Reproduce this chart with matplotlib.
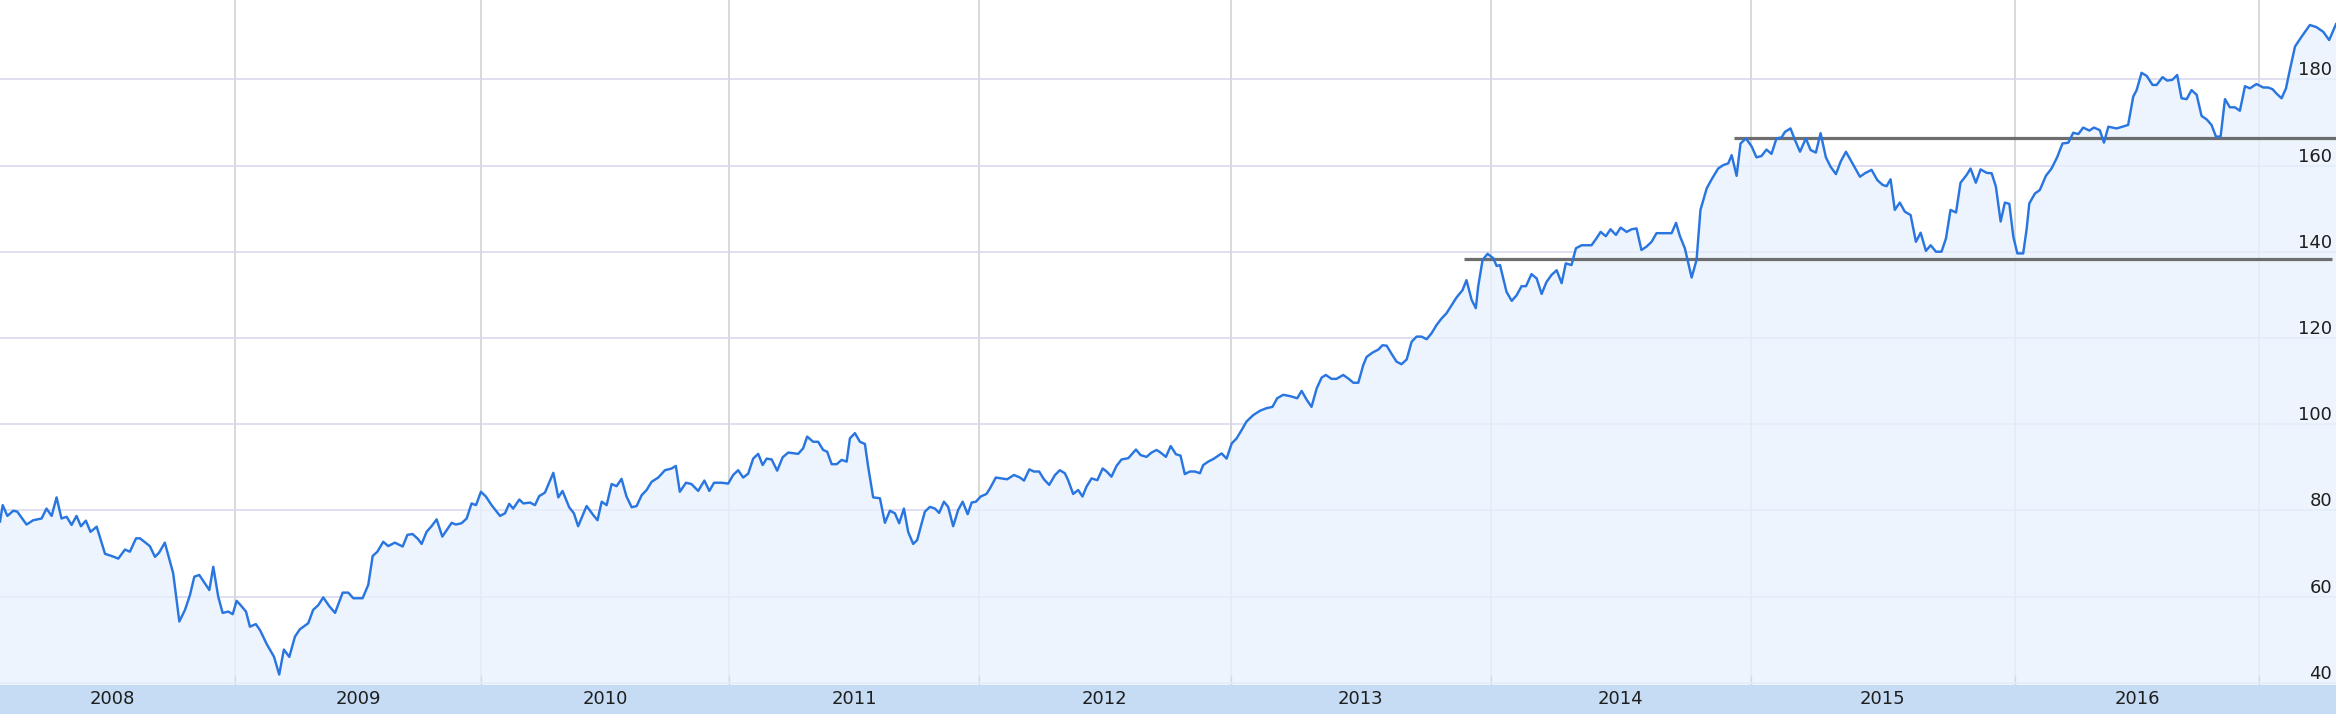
import numpy as np
import matplotlib
matplotlib.use("Agg")
import matplotlib.pyplot as plt
from matplotlib import transforms

# weekly closes (x = fractional year)
DATES = [
    2008.045, 2008.056, 2008.075, 2008.099, 2008.115, 2008.153, 2008.180, 2008.214, 2008.234, 2008.255,
    2008.275, 2008.295, 2008.316, 2008.336, 2008.356, 2008.374, 2008.394, 2008.413, 2008.438, 2008.472,
    2008.499, 2008.526, 2008.553, 2008.573, 2008.598, 2008.614, 2008.654, 2008.675, 2008.692, 2008.715,
    2008.749, 2008.774, 2008.797, 2008.817, 2008.835, 2008.855, 2008.896, 2008.912, 2008.932, 2008.950,
    2008.973, 2008.991, 2009.007, 2009.023, 2009.045, 2009.061, 2009.085, 2009.102, 2009.129, 2009.159,
    2009.180, 2009.199, 2009.221, 2009.244, 2009.264, 2009.298, 2009.318, 2009.339, 2009.359, 2009.383,
    2009.407, 2009.438, 2009.461, 2009.481, 2009.519, 2009.542, 2009.560, 2009.579, 2009.603, 2009.623,
    2009.650, 2009.682, 2009.701, 2009.722, 2009.745, 2009.759, 2009.779, 2009.799, 2009.820, 2009.843,
    2009.881, 2009.898, 2009.921, 2009.942, 2009.962, 2009.980, 2010.000, 2010.020, 2010.043, 2010.077,
    2010.097, 2010.114, 2010.130, 2010.155, 2010.171, 2010.198, 2010.218, 2010.235, 2010.258, 2010.292,
    2010.312, 2010.329, 2010.356, 2010.375, 2010.392, 2010.426, 2010.453, 2010.470, 2010.487, 2010.507,
    2010.527, 2010.547, 2010.567, 2010.587, 2010.608, 2010.628, 2010.648, 2010.668, 2010.688, 2010.715,
    2010.742, 2010.769, 2010.786, 2010.802, 2010.827, 2010.849, 2010.876, 2010.901, 2010.921, 2010.940,
    2010.970, 2010.997, 2011.017, 2011.037, 2011.057, 2011.077, 2011.097, 2011.117, 2011.135, 2011.151,
    2011.171, 2011.193, 2011.215, 2011.237, 2011.277, 2011.297, 2011.313, 2011.337, 2011.357, 2011.377,
    2011.393, 2011.411, 2011.431, 2011.451, 2011.471, 2011.484, 2011.504, 2011.524, 2011.544, 2011.557,
    2011.577, 2011.604, 2011.624, 2011.644, 2011.664, 2011.681, 2011.700, 2011.717, 2011.737, 2011.753,
    2011.771, 2011.784, 2011.804, 2011.824, 2011.841, 2011.860, 2011.877, 2011.897, 2011.917, 2011.935,
    2011.955, 2011.971, 2011.988, 2012.007, 2012.030, 2012.044, 2012.067, 2012.090, 2012.112, 2012.139,
    2012.163, 2012.179, 2012.200, 2012.218, 2012.239, 2012.258, 2012.279, 2012.302, 2012.321, 2012.341,
    2012.354, 2012.374, 2012.394, 2012.411, 2012.427, 2012.447, 2012.470, 2012.491, 2012.507, 2012.526,
    2012.546, 2012.566, 2012.593, 2012.623, 2012.642, 2012.665, 2012.685, 2012.705, 2012.721, 2012.742,
    2012.761, 2012.782, 2012.800, 2012.817, 2012.837, 2012.857, 2012.877, 2012.890, 2012.910, 2012.933,
    2012.963, 2012.983, 2013.003, 2013.022, 2013.041, 2013.060, 2013.086, 2013.112, 2013.137, 2013.160,
    2013.178, 2013.201, 2013.227, 2013.255, 2013.272, 2013.291, 2013.310, 2013.330, 2013.349, 2013.365,
    2013.387, 2013.406, 2013.432, 2013.451, 2013.471, 2013.490, 2013.509, 2013.522, 2013.545, 2013.567,
    2013.583, 2013.599, 2013.618, 2013.637, 2013.656, 2013.676, 2013.695, 2013.714, 2013.733, 2013.753,
    2013.772, 2013.791, 2013.810, 2013.829, 2013.849, 2013.868, 2013.891, 2013.906, 2013.926, 2013.942,
    2013.951, 2013.968, 2013.987, 2014.009, 2014.022, 2014.035, 2014.060, 2014.080, 2014.099, 2014.118,
    2014.135, 2014.156, 2014.176, 2014.195, 2014.214, 2014.233, 2014.253, 2014.272, 2014.288, 2014.310,
    2014.327, 2014.349, 2014.387, 2014.406, 2014.422, 2014.442, 2014.460, 2014.481, 2014.499, 2014.522,
    2014.541, 2014.560, 2014.579, 2014.599, 2014.618, 2014.637, 2014.663, 2014.695, 2014.712, 2014.727,
    2014.746, 2014.772, 2014.791, 2014.806, 2014.830, 2014.849, 2014.874, 2014.894, 2014.913, 2014.926,
    2014.945, 2014.960, 2014.981, 2015.003, 2015.021, 2015.040, 2015.059, 2015.078, 2015.097, 2015.116,
    2015.129, 2015.150, 2015.167, 2015.186, 2015.208, 2015.226, 2015.246, 2015.264, 2015.284, 2015.302,
    2015.322, 2015.340, 2015.360, 2015.381, 2015.413, 2015.432, 2015.457, 2015.479, 2015.499, 2015.514,
    2015.529, 2015.545, 2015.564, 2015.583, 2015.605, 2015.625, 2015.643, 2015.663, 2015.681, 2015.701,
    2015.722, 2015.739, 2015.756, 2015.777, 2015.794, 2015.817, 2015.832, 2015.852, 2015.870, 2015.893,
    2015.912, 2015.928, 2015.946, 2015.962, 2015.979, 2015.994, 2016.010, 2016.034, 2016.048, 2016.059,
    2016.082, 2016.102, 2016.127, 2016.150, 2016.173, 2016.195, 2016.219, 2016.239, 2016.260, 2016.280,
    2016.305, 2016.324, 2016.348, 2016.365, 2016.383, 2016.417, 2016.464, 2016.485, 2016.499, 2016.519,
    2016.540, 2016.564, 2016.581, 2016.605, 2016.624, 2016.646, 2016.665, 2016.683, 2016.704, 2016.724,
    2016.745, 2016.765, 2016.786, 2016.806, 2016.824, 2016.843, 2016.861, 2016.881, 2016.902, 2016.922,
    2016.943, 2016.963, 2016.990, 2017.018, 2017.038, 2017.056, 2017.072, 2017.093, 2017.111, 2017.127,
    2017.148, 2017.175, 2017.209, 2017.236, 2017.264, 2017.288, 2017.316,
]
VALUES = [
    77.4, 81.2, 78.7, 79.9, 79.7, 76.7, 77.7, 78.1, 80.4, 78.7,
    83.0, 78.1, 78.5, 76.6, 78.7, 76.3, 77.6, 75.0, 76.2, 69.9,
    69.4, 68.8, 70.9, 70.4, 73.5, 73.5, 71.7, 69.2, 70.2, 72.5,
    65.4, 54.2, 56.9, 60.3, 64.6, 65.0, 61.5, 66.9, 60.0, 56.2,
    56.5, 55.9, 59.0, 58.0, 56.5, 53.0, 53.6, 52.2, 49.0, 46.0,
    41.9, 47.7, 46.0, 50.7, 52.4, 53.8, 56.9, 58.0, 59.8, 57.8,
    56.2, 60.9, 60.9, 59.6, 59.6, 62.7, 69.4, 70.4, 72.7, 71.7,
    72.5, 71.6, 74.3, 74.5, 73.3, 72.2, 75.0, 76.3, 77.9, 73.9,
    77.1, 76.7, 77.0, 78.1, 81.6, 81.2, 84.3, 83.2, 81.2, 78.7,
    79.3, 81.5, 80.4, 82.5, 81.6, 81.8, 81.2, 83.3, 84.1, 88.7,
    83.0, 84.5, 80.7, 79.3, 76.3, 81.0, 78.9, 77.7, 82.0, 81.2,
    86.1, 85.6, 87.3, 83.2, 80.7, 81.0, 83.5, 84.7, 86.6, 87.6,
    89.3, 89.7, 90.3, 84.3, 86.4, 86.1, 84.5, 86.9, 84.5, 86.4,
    86.4, 86.2, 88.2, 89.3, 87.6, 88.5, 92.0, 93.1, 90.5, 92.0,
    91.8, 89.2, 92.3, 93.4, 93.1, 94.4, 97.1, 95.9, 95.9, 94.0,
    93.6, 90.7, 90.7, 91.7, 91.3, 96.7, 97.9, 95.9, 95.4, 90.1,
    83.0, 82.8, 77.1, 79.9, 79.3, 77.0, 80.4, 75.0, 72.2, 73.1,
    77.0, 79.7, 80.8, 80.4, 79.4, 82.0, 80.8, 76.3, 80.1, 82.0,
    79.1, 81.8, 82.0, 83.2, 83.8, 85.1, 87.6, 87.4, 87.2, 88.2,
    87.6, 86.9, 89.5, 89.0, 89.0, 87.2, 85.9, 88.2, 89.3, 88.6,
    87.0, 83.8, 84.7, 83.2, 85.5, 87.4, 87.0, 89.7, 89.0, 87.8,
    90.3, 91.8, 92.1, 94.1, 92.8, 92.4, 93.4, 94.0, 93.4, 92.4,
    94.9, 93.0, 92.7, 88.4, 89.0, 89.0, 88.6, 90.5, 91.3, 92.0,
    93.2, 92.0, 95.5, 96.7, 98.6, 100.6, 102.1, 103.1, 103.7, 104.0,
    106.0, 106.8, 106.5, 106.0, 107.7, 105.7, 104.0, 108.3, 110.8, 111.4,
    110.5, 110.5, 111.4, 110.6, 109.6, 109.6, 113.7, 115.6, 116.6, 117.3,
    118.3, 118.2, 116.3, 114.5, 113.9, 115.0, 119.1, 120.3, 120.3, 119.7,
    121.1, 123.0, 124.5, 125.7, 127.6, 129.4, 131.1, 133.4, 128.8, 126.9,
    131.9, 138.1, 139.5, 138.5, 136.7, 136.9, 130.7, 128.6, 129.9, 132.0,
    132.0, 134.8, 133.8, 130.2, 133.0, 134.6, 135.7, 132.7, 137.3, 136.9,
    140.8, 141.5, 141.5, 143.1, 144.6, 143.6, 145.2, 143.9, 145.6, 144.6,
    145.2, 145.4, 140.4, 141.2, 142.3, 144.3, 144.3, 144.3, 146.7, 143.6,
    140.8, 134.0, 138.1, 149.7, 154.7, 156.8, 159.3, 160.1, 160.5, 162.4,
    157.6, 165.1, 166.3, 164.4, 161.9, 162.2, 163.7, 162.7, 166.3, 166.5,
    167.8, 168.6, 165.9, 163.2, 166.3, 163.6, 163.0, 167.5, 161.9, 159.7,
    158.0, 160.9, 163.2, 160.9, 157.4, 158.2, 159.0, 156.6, 155.5, 155.2,
    156.8, 149.7, 151.4, 149.3, 148.5, 142.3, 144.4, 140.2, 141.5, 140.0,
    140.0, 143.1, 149.7, 149.1, 156.0, 157.8, 159.3, 156.0, 159.1, 158.3,
    158.2, 155.1, 147.0, 151.4, 151.1, 143.5, 139.6, 139.6, 145.2, 151.2,
    153.5, 154.3, 157.6, 159.3, 161.9, 165.1, 165.3, 167.6, 167.3, 168.8,
    168.1, 168.8, 168.2, 165.3, 169.0, 168.6, 169.4, 176.0, 177.5, 181.5,
    180.8, 178.7, 178.7, 180.5, 179.7, 179.9, 181.0, 175.6, 175.4, 177.5,
    176.4, 171.5, 170.7, 169.4, 166.7, 166.7, 175.4, 173.5, 173.5, 172.7,
    178.4, 177.9, 178.9, 178.1, 178.1, 177.7, 176.7, 175.6, 177.9, 182.2,
    187.6, 189.9, 192.6, 192.1, 191.0, 189.1, 192.8,
]

# drawn support / resistance levels
LEVEL_VALUES = [138.4, 166.4]
LEVEL_START = [2013.896, 2014.935]
LEVEL_END = [2017.299, 2017.316]

Y_TICKS = [40, 60, 80, 100, 120, 140, 160, 180]
YEAR_LABELS = [2008, 2009, 2010, 2011, 2012, 2013, 2014, 2015, 2016]
X_RANGE = (2008.045, 2017.316)
Y_RANGE = (39.47, 198.4)

# the source chart does not give every year the same width
YEAR_EDGES = [2008, 2009, 2010, 2011, 2012, 2013, 2014, 2015, 2016, 2017, 2018]
EDGE_POS = [-11, 235, 481, 729, 979, 1231, 1491, 1751, 2015, 2259, 2503]


def fwd(x):
    return np.interp(x, YEAR_EDGES, EDGE_POS)


def inv(p):
    return np.interp(p, EDGE_POS, YEAR_EDGES)


W, H = 2336, 714
BAND = 29
fig = plt.figure(figsize=(W / 100, H / 100), dpi=100)
fig.patch.set_facecolor("white")

ax = fig.add_axes([0, BAND / H, 1, (H - BAND) / H])
band = fig.add_axes([0, 0, 1, BAND / H], sharex=ax)

ax.set_xscale("function", functions=(fwd, inv))
ax.set_xlim(*X_RANGE)
ax.set_ylim(*Y_RANGE)

ax.set_axisbelow(True)
ax.set_yticks(Y_TICKS)
ax.set_xticks([y for y in YEAR_EDGES if X_RANGE[0] < y < X_RANGE[1]])
ax.grid(axis="y", color="#d6d6ee", lw=1.1)
ax.grid(axis="x", color="#cfd3cf", lw=1.2)
ax.tick_params(axis="x", direction="in", length=6.5, width=1, color="#8a8a8a",
               labelbottom=False)
ax.tick_params(axis="y", length=0, labelleft=False)
for s in ax.spines.values():
    s.set_visible(False)

ax.fill_between(DATES, VALUES, Y_RANGE[0] - 10, color="#e8f2fd", alpha=0.78,
                lw=0, zorder=1)
for v, x0, x1 in zip(LEVEL_VALUES, LEVEL_START, LEVEL_END):
    ax.plot([x0, x1], [v, v], color="#5e5e5e", lw=2.3, alpha=0.9,
            solid_capstyle="butt", zorder=3)
ax.plot(DATES, VALUES, color="#2a76e0", lw=1.75, zorder=4)

lab_tr = transforms.offset_copy(ax.get_yaxis_transform(), fig=fig, y=4, units="dots")
for t in Y_TICKS:
    ax.text(1 - 4 / W, t, str(t), transform=lab_tr, ha="right", va="baseline",
            fontsize=13, color="#1e1e1e", zorder=6, clip_on=False)

band.set_facecolor("#c6dbf4")
band.set_yticks([])
band.tick_params(axis="x", length=0, labelbottom=False)
for s in band.spines.values():
    s.set_visible(False)
for yr in YEAR_LABELS:
    band.text(yr + 0.5, 0.5, str(yr), transform=band.get_xaxis_transform(),
              ha="center", va="center", fontsize=13, color="#1e1e1e")

fig.savefig("out.png", dpi=100, facecolor="white")
